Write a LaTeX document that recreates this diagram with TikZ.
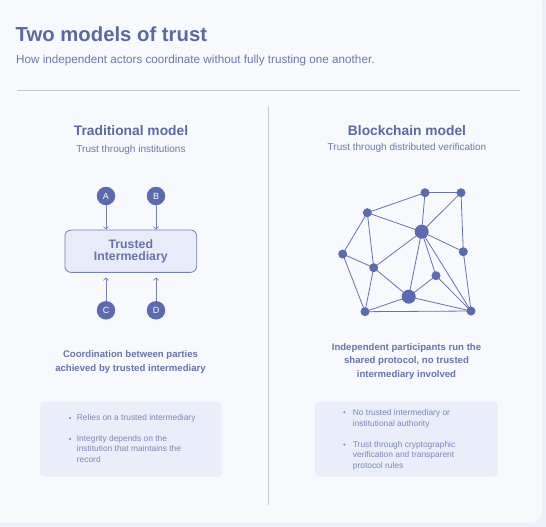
\documentclass[tikz,border=0pt]{standalone}
\usepackage{fontspec}
\setmainfont{Liberation Sans}
\usetikzlibrary{arrows.meta}
\definecolor{outerbg}{HTML}{EDF0F8}
\definecolor{cardbg}{HTML}{F7F9FD}
\definecolor{titlec}{HTML}{5B6A9D}
\definecolor{subc}{HTML}{6C78A6}
\definecolor{capc}{HTML}{6874A6}
\definecolor{bulc}{HTML}{7C86B2}
\definecolor{nodec}{HTML}{5C6BAE}
\definecolor{edgec}{HTML}{6A72A6}
\definecolor{boxfill}{HTML}{E8ECFA}
\definecolor{boxline}{HTML}{7580AE}
\definecolor{panelfill}{HTML}{EAEEFA}
\definecolor{rulec}{HTML}{C4C8D6}
\tikzset{
  actor/.style={circle,fill=nodec,inner sep=0pt,minimum size=18.5pt,text=white,font=\fontsize{9}{10}\selectfont},
  peer/.style={circle,fill=nodec,inner sep=0pt,minimum size=9pt},
  hub/.style={circle,fill=nodec,inner sep=0pt,minimum size=14pt},
  link/.style={draw=edgec,line width=0.8pt},
  feed/.style={draw=boxline,line width=0.8pt,-{Straight Barb[length=2.5pt,width=5pt]}},
  btxt/.style={anchor=base west,text=bulc,inner sep=0pt,font=\fontsize{8.4}{10.4}\selectfont,align=left},
  bdot/.style={circle,fill=bulc,inner sep=0pt,minimum size=2.2pt},
}
\begin{document}
\begin{tikzpicture}[x=1pt,y=-1pt]
\useasboundingbox (0,0) rectangle (546,527);
\fill[outerbg] (0,0) rectangle (546,527);
\fill[cardbg,rounded corners=12pt] (-10,-10) rectangle (542,523);
% header
\node[anchor=base west,inner sep=0pt,text=titlec,font=\fontsize{20.3}{24}\selectfont\bfseries] (title) at (15.5,41.7) {Two models of trust};
\node[anchor=base west,inner sep=0pt,text=subc,font=\fontsize{11.7}{13}\selectfont] (subtitle) at (16,63.3) {How independent actors coordinate without fully trusting one another.};
\draw[rulec,line width=0.8pt] (17,90) -- (520,90);
\draw[rulec,line width=0.8pt] (268.5,106) -- (268.5,505);
% left heading
\node[anchor=base,inner sep=0pt,text=titlec,font=\fontsize{13.8}{17}\selectfont\bfseries] (lh) at (131,135.7) {Traditional model};
\node[anchor=base,inner sep=0pt,text=subc,font=\fontsize{10}{11}\selectfont] (ls) at (131,152.7) {Trust through institutions};
% right heading
\node[anchor=base,inner sep=0pt,text=titlec,font=\fontsize{13.8}{17}\selectfont\bfseries] (rh) at (407,135.7) {Blockchain model};
\node[anchor=base,inner sep=0pt,text=subc,font=\fontsize{10}{11}\selectfont] (rs) at (407,150.3) {Trust through distributed verification};
% traditional diagram
\node[draw=boxline,fill=boxfill,line width=0.8pt,rounded corners=6pt,minimum width=131.7pt,minimum height=42.3pt,inner sep=0pt,align=center,text=capc,font=\fontsize{12.3}{12.4}\selectfont\bfseries] (tm) at (130.8,251.2) {Trusted\\Intermediary};
\node[actor] (A) at (106,196) {A};
\node[actor] (B) at (156,196) {B};
\node[actor] (C) at (106,310.3) {C};
\node[actor] (D) at (156,310.3) {D};
\draw[feed] (A) -- (A |- tm.north);
\draw[feed] (B) -- (B |- tm.north);
\draw[feed] (C) -- ([yshift=-4.5pt]C |- tm.south);
\draw[feed] (D) -- ([yshift=-4.5pt]D |- tm.south);
% network
\coordinate (p1) at (425,192.7);
\coordinate (p2) at (461,192.7);
\coordinate (p3) at (367.3,212.7);
\coordinate (p4) at (421.7,231.7);
\coordinate (p5) at (342.7,254);
\coordinate (p6) at (463.3,251.7);
\coordinate (p7) at (373.7,267.7);
\coordinate (p8) at (436,275.7);
\coordinate (p9) at (408.7,296.7);
\coordinate (p10) at (365,311.7);
\coordinate (p11) at (471,311);
\foreach \a/\b in {p3/p1,p1/p2,p1/p4,p2/p4,p2/p6,p3/p4,p3/p5,p3/p7,p4/p6,p4/p7,p4/p9,p4/p8,p4/p11,p5/p7,p5/p10,p7/p9,p7/p10,p8/p9,p8/p11,p9/p10,p9/p11,p10/p11,p6/p11}
  \draw[link] (\a) -- (\b);
\foreach \p in {p1,p2,p3,p5,p6,p7,p8,p10,p11}
  \node[peer] (n\p) at (\p) {};
\node[hub] (np4) at (p4) {};
\node[hub] (np9) at (p9) {};
% captions (base anchor = last line baseline)
\node[anchor=base,inner sep=0pt,align=center,text=capc,font=\fontsize{9.6}{14}\selectfont\bfseries] (lc) at (130.5,371.7) {Coordination between parties\\achieved by trusted intermediary};
\node[anchor=base,inner sep=0pt,align=center,text=capc,font=\fontsize{9.6}{13.5}\selectfont\bfseries] (rc) at (406.5,377) {Independent participants run the\\shared protocol, no trusted\\intermediary involved};
% panels
\fill[panelfill,rounded corners=4pt] (40,401.7) rectangle (221.7,476.7);
\fill[panelfill,rounded corners=4pt] (315,401.7) rectangle (497.7,476.7);
\node[bdot] (lb1) at (70,418) {};
\node[btxt] (lt1) at (76.7,420.7) {Relies on a trusted intermediary};
\node[bdot] (lb2) at (70,439) {};
\node[btxt] (lt2) at (76.7,462.3) {Integrity depends on the\\institution that maintains the\\record};
\node[bdot] (rb1) at (344.3,412.3) {};
\node[btxt] (rt1) at (352.7,426) {No trusted intermediary or\\institutional authority};
\node[bdot] (rb2) at (344.3,444.6) {};
\node[btxt] (rt2) at (352.7,468) {Trust through cryptographic\\verification and transparent\\protocol rules};
\end{tikzpicture}
\end{document}
